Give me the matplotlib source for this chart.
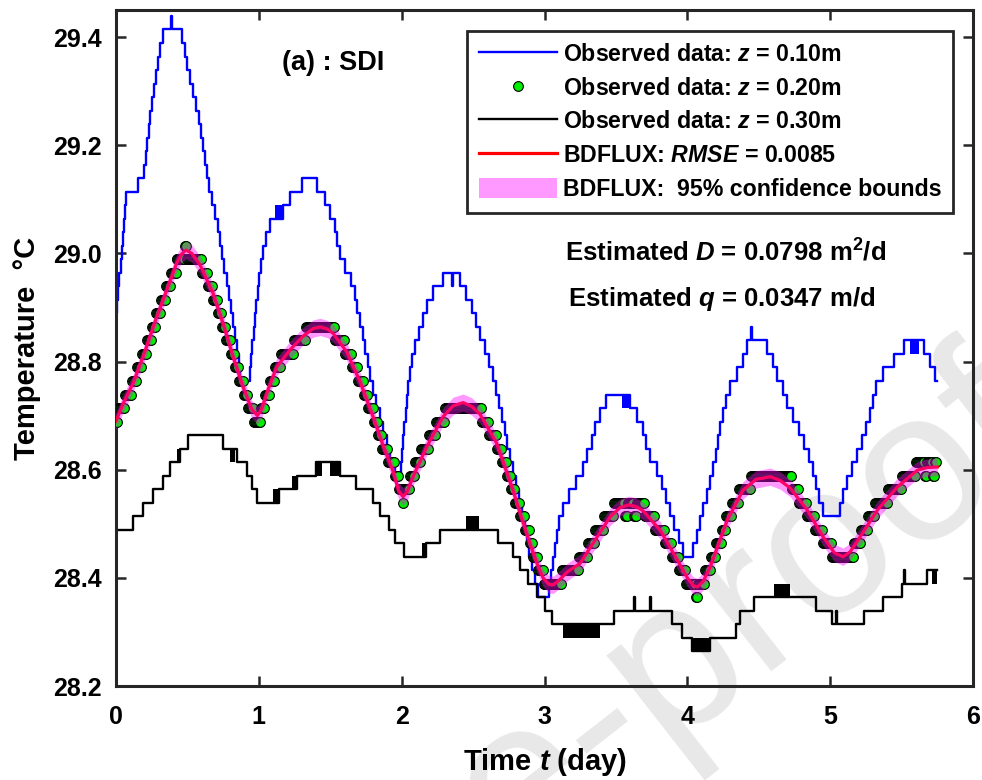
import numpy as np
import matplotlib
matplotlib.use("Agg")
import matplotlib.pyplot as plt
from matplotlib.patches import Patch
from matplotlib.lines import Line2D

plt.rcParams['font.family'] = ['Liberation Sans', 'DejaVu Sans']
plt.rcParams['font.weight'] = 'bold'
plt.rcParams['axes.labelweight'] = 'bold'
plt.rcParams['mathtext.fontset'] = 'custom'
plt.rcParams['mathtext.rm'] = 'Liberation Sans:bold'
plt.rcParams['mathtext.bf'] = 'Liberation Sans:bold'
plt.rcParams['mathtext.it'] = 'Liberation Sans:italic:bold'

# ---- data (time in days, temperature in degC) ----
# z = 0.10 m, logged temperature: (time where level starts, level)
blue_steps = [
    (0.000, 28.889), (0.008, 28.914), (0.016, 28.939), (0.024, 28.964), (0.032, 28.989),
    (0.040, 29.014), (0.048, 29.039), (0.055, 29.064), (0.062, 29.089), (0.069, 29.114),
    (0.156, 29.139), (0.197, 29.164), (0.207, 29.189), (0.218, 29.214), (0.229, 29.239),
    (0.240, 29.264), (0.252, 29.289), (0.265, 29.314), (0.280, 29.339), (0.295, 29.364),
    (0.310, 29.389), (0.330, 29.414), (0.383, 29.439), (0.390, 29.414),
    (0.460, 29.389), (0.480, 29.364), (0.500, 29.339), (0.520, 29.314), (0.540, 29.289),
    (0.560, 29.264), (0.578, 29.239), (0.595, 29.214), (0.610, 29.189), (0.625, 29.164),
    (0.640, 29.139), (0.652, 29.114), (0.675, 29.089), (0.695, 29.064), (0.712, 29.039),
    (0.727, 29.014), (0.743, 28.989), (0.758, 28.964), (0.774, 28.939), (0.790, 28.914),
    (0.805, 28.889), (0.820, 28.864), (0.833, 28.839), (0.847, 28.814), (0.860, 28.789),
    (0.870, 28.764),
    (0.940, 28.789), (0.947, 28.814), (0.955, 28.839), (0.963, 28.864), (0.972, 28.889),
    (0.982, 28.914), (0.992, 28.939), (1.003, 28.964), (1.015, 28.989), (1.030, 29.014),
    (1.050, 29.039), (1.075, 29.064), (1.170, 29.089), (1.220, 29.114), (1.300, 29.139),
    (1.410, 29.114), (1.460, 29.089), (1.500, 29.064), (1.530, 29.039), (1.550, 29.014),
    (1.570, 28.989), (1.600, 28.964), (1.645, 28.939), (1.670, 28.914), (1.690, 28.889),
    (1.710, 28.864), (1.730, 28.839), (1.745, 28.814), (1.765, 28.789), (1.780, 28.764),
    (1.800, 28.739), (1.820, 28.714), (1.845, 28.689), (1.870, 28.664), (1.895, 28.639),
    (1.920, 28.614), (1.950, 28.589),
    (1.995, 28.614), (2.003, 28.639), (2.011, 28.664), (2.019, 28.689), (2.027, 28.714),
    (2.036, 28.739), (2.046, 28.764), (2.060, 28.789), (2.075, 28.814), (2.095, 28.839),
    (2.120, 28.864), (2.150, 28.889), (2.180, 28.914), (2.220, 28.939), (2.290, 28.964),
    (2.350, 28.939), (2.360, 28.964),
    (2.410, 28.939), (2.450, 28.914), (2.490, 28.889), (2.520, 28.864), (2.550, 28.839),
    (2.580, 28.814), (2.610, 28.789), (2.640, 28.764), (2.660, 28.739), (2.680, 28.714),
    (2.700, 28.689), (2.720, 28.664), (2.740, 28.639), (2.760, 28.614), (2.780, 28.589),
    (2.800, 28.564), (2.820, 28.539), (2.840, 28.514), (2.860, 28.489), (2.875, 28.464),
    (2.890, 28.439), (2.910, 28.414), (2.930, 28.389), (2.955, 28.364),
    (3.030, 28.389), (3.045, 28.414), (3.060, 28.439), (3.075, 28.464), (3.090, 28.489),
    (3.105, 28.514), (3.130, 28.539), (3.170, 28.564), (3.220, 28.589), (3.270, 28.614),
    (3.300, 28.639), (3.330, 28.664), (3.355, 28.689), (3.390, 28.714), (3.430, 28.739),
    (3.600, 28.714), (3.650, 28.689), (3.690, 28.664), (3.710, 28.639), (3.740, 28.614),
    (3.790, 28.589), (3.820, 28.564), (3.850, 28.539), (3.880, 28.514), (3.910, 28.489),
    (3.940, 28.464), (3.970, 28.439),
    (4.040, 28.464), (4.070, 28.489), (4.090, 28.514), (4.110, 28.539), (4.140, 28.564),
    (4.160, 28.589), (4.180, 28.614), (4.200, 28.639), (4.215, 28.664), (4.230, 28.689),
    (4.250, 28.714), (4.270, 28.739), (4.300, 28.764), (4.350, 28.789), (4.390, 28.814),
    (4.420, 28.839), (4.445, 28.864), (4.452, 28.839),
    (4.560, 28.814), (4.600, 28.789), (4.630, 28.764), (4.670, 28.739), (4.700, 28.714),
    (4.740, 28.689), (4.780, 28.664), (4.820, 28.639), (4.850, 28.614), (4.880, 28.589),
    (4.900, 28.564), (4.925, 28.539), (4.950, 28.514),
    (5.070, 28.539), (5.090, 28.564), (5.120, 28.589), (5.150, 28.614), (5.190, 28.639),
    (5.220, 28.664), (5.250, 28.689), (5.280, 28.714), (5.300, 28.739), (5.320, 28.764),
    (5.370, 28.789), (5.450, 28.814), (5.520, 28.839),
    (5.660, 28.814), (5.700, 28.789), (5.735, 28.764), (5.745, 28.764),
]
# short stretches where the z = 0.10 m logger flickers between two levels
blue_flicker = [(1.110, 1.175, 29.064, 29.089), (3.545, 3.600, 28.714, 28.739),
                (5.560, 5.620, 28.814, 28.839)]

# z = 0.20 m, logged temperature
green_steps = [
    (0.000, 28.689), (0.010, 28.714), (0.060, 28.739), (0.105, 28.764), (0.140, 28.789),
    (0.180, 28.814), (0.210, 28.839), (0.245, 28.864), (0.277, 28.889), (0.310, 28.914),
    (0.347, 28.939), (0.380, 28.964), (0.418, 28.989), (0.486, 29.014), (0.494, 28.989),
    (0.600, 28.964), (0.640, 28.939), (0.680, 28.914), (0.710, 28.889), (0.740, 28.864),
    (0.770, 28.839), (0.800, 28.814), (0.830, 28.789), (0.860, 28.764), (0.890, 28.739),
    (0.920, 28.714), (0.965, 28.689),
    (1.010, 28.714), (1.035, 28.739), (1.070, 28.764), (1.105, 28.789), (1.150, 28.814),
    (1.240, 28.839), (1.330, 28.864),
    (1.530, 28.839), (1.600, 28.814), (1.650, 28.789), (1.690, 28.764), (1.730, 28.739),
    (1.760, 28.714), (1.800, 28.689), (1.830, 28.664), (1.860, 28.639), (1.900, 28.614),
    (1.945, 28.589), (1.975, 28.564), (2.005, 28.539),
    (2.013, 28.564), (2.050, 28.589), (2.085, 28.614), (2.130, 28.639), (2.190, 28.664),
    (2.240, 28.689), (2.300, 28.714),
    (2.560, 28.689), (2.610, 28.664), (2.660, 28.639), (2.700, 28.614), (2.730, 28.589),
    (2.760, 28.564), (2.790, 28.539), (2.820, 28.514), (2.855, 28.489), (2.890, 28.464),
    (2.915, 28.439), (2.950, 28.414), (2.990, 28.389),
    (3.120, 28.414), (3.240, 28.439), (3.300, 28.464), (3.350, 28.489), (3.410, 28.514),
    (3.480, 28.539), (3.560, 28.514), (3.580, 28.539), (3.620, 28.514), (3.640, 28.539),
    (3.700, 28.514), (3.770, 28.489), (3.840, 28.464), (3.890, 28.439), (3.940, 28.414),
    (3.990, 28.389), (4.060, 28.364),
    (4.070, 28.389), (4.120, 28.414), (4.160, 28.439), (4.200, 28.464), (4.240, 28.489),
    (4.270, 28.514), (4.310, 28.539), (4.360, 28.564), (4.440, 28.589),
    (4.730, 28.564), (4.780, 28.539), (4.840, 28.514), (4.890, 28.489), (4.950, 28.464),
    (5.010, 28.439),
    (5.160, 28.464), (5.210, 28.489), (5.260, 28.514), (5.310, 28.539), (5.400, 28.564),
    (5.500, 28.589), (5.600, 28.614), (5.660, 28.589), (5.680, 28.614), (5.720, 28.589),
    (5.735, 28.614),
]
green_dt = 1.0 / 144      # 10-minute logging interval
green_end = 5.745

# z = 0.30 m, logged temperature
black_steps = [
    (0.000, 28.489), (0.120, 28.514), (0.190, 28.539), (0.260, 28.564), (0.330, 28.589),
    (0.380, 28.614), (0.450, 28.639), (0.505, 28.664), (0.750, 28.639), (0.845, 28.614),
    (0.915, 28.589), (0.950, 28.564), (0.985, 28.539), (1.140, 28.564), (1.270, 28.589),
    (1.400, 28.614), (1.570, 28.589), (1.680, 28.564), (1.800, 28.539), (1.850, 28.514),
    (1.910, 28.489), (1.954, 28.464), (2.017, 28.439), (2.170, 28.464), (2.270, 28.489),
    (2.676, 28.464), (2.780, 28.439), (2.830, 28.414), (2.886, 28.389), (2.946, 28.364),
    (3.000, 28.339), (3.050, 28.314), (3.390, 28.314), (3.490, 28.339), (3.630, 28.364),
    (3.636, 28.339), (3.740, 28.364), (3.746, 28.339), (3.890, 28.314), (3.960, 28.289),
    (4.030, 28.264), (4.160, 28.289), (4.340, 28.314), (4.370, 28.339), (4.470, 28.364),
    (4.830, 28.364), (4.900, 28.339), (5.010, 28.314), (5.040, 28.339), (5.046, 28.314),
    (5.240, 28.339), (5.370, 28.364), (5.500, 28.389), (5.520, 28.414), (5.526, 28.389),
    (5.680, 28.414), (5.745, 28.414),
]
black_flicker = [(0.430, 0.450, 28.614, 28.639), (0.800, 0.830, 28.614, 28.639),
                 (1.100, 1.140, 28.539, 28.564), (1.230, 1.270, 28.564, 28.589),
                 (1.400, 1.440, 28.589, 28.614), (1.500, 1.570, 28.589, 28.614),
                 (2.140, 2.170, 28.439, 28.464), (2.450, 2.540, 28.489, 28.514),
                 (3.130, 3.390, 28.289, 28.314), (4.040, 4.150, 28.264, 28.289),
                 (4.610, 4.720, 28.364, 28.389), (5.715, 5.745, 28.389, 28.414)]

# BDFLUX fit at z = 0.20 m
fit_t = [0.00, 0.05, 0.12, 0.19, 0.27, 0.355, 0.425, 0.46, 0.49, 0.53, 0.59, 0.68, 0.75,
         0.82, 0.89, 0.95, 0.99, 1.02, 1.055, 1.125, 1.22, 1.31, 1.38, 1.43, 1.48, 1.52,
         1.615, 1.71, 1.80, 1.87, 1.94, 1.98, 2.01, 2.04, 2.08, 2.175, 2.29, 2.36, 2.43,
         2.49, 2.55, 2.665, 2.78, 2.83, 2.90, 2.95, 2.99, 3.03, 3.06, 3.10, 3.16, 3.25,
         3.34, 3.46, 3.53, 3.59, 3.64, 3.69, 3.81, 3.93, 4.00, 4.04, 4.07, 4.11, 4.16,
         4.28, 4.39, 4.48, 4.58, 4.65, 4.72, 4.84, 4.95, 5.03, 5.09, 5.14, 5.21, 5.33,
         5.47, 5.61, 5.68, 5.75]
fit_T = [28.690, 28.722, 28.760, 28.809, 28.871, 28.932, 28.982, 28.999, 29.006, 29.000,
         28.978, 28.926, 28.870, 28.809, 28.753, 28.712, 28.700, 28.712, 28.741, 28.790,
         28.822, 28.847, 28.861, 28.864, 28.860, 28.852, 28.818, 28.762, 28.698, 28.645,
         28.597, 28.560, 28.550, 28.560, 28.587, 28.642, 28.698, 28.718, 28.724, 28.717,
         28.702, 28.649, 28.562, 28.519, 28.462, 28.425, 28.400, 28.388, 28.387, 28.395,
         28.411, 28.427, 28.464, 28.513, 28.530, 28.535, 28.532, 28.524, 28.488, 28.433,
         28.400, 28.386, 28.383, 28.393, 28.420, 28.507, 28.562, 28.582, 28.587, 28.580,
         28.566, 28.525, 28.476, 28.446, 28.439, 28.448, 28.476, 28.525, 28.568, 28.599,
         28.604, 28.605]
fit_halfwidth = 0.016     # 95% confidence half-width, degC

labels = ['Observed data: $z$ = 0.10m', 'Observed data: $z$ = 0.20m',
          'Observed data: $z$ = 0.30m', 'BDFLUX: $RMSE$ = 0.0085',
          'BDFLUX:  95% confidence bounds']
x_ticks = [0, 1, 2, 3, 4, 5, 6]
y_ticks = [28.2, 28.4, 28.6, 28.8, 29.0, 29.2, 29.4]


def unzip(steps):
    t, v = zip(*steps)
    return np.array(t), np.array(v)


W, H = 982, 780
fig = plt.figure(figsize=(W / 100, H / 100), dpi=100)
ax = fig.add_axes([116 / W, 1 - 686 / H, 857 / W, 676 / H])
ax.set_facecolor('none')

# journal watermark behind everything
fig.text(0.37, -0.18, 'Journal Pre-proof', rotation=38, fontsize=155, color='#e8e8e8',
         fontweight='normal', ha='center', va='center', zorder=-5)

bt, bT = unzip(blue_steps)
ax.plot(bt, bT, drawstyle='steps-post', color='#0000ff', lw=1.7, zorder=2)
for t0, t1, lo, hi in blue_flicker:
    ax.fill_between([t0, t1], [lo, lo], [hi, hi], color='#0000ff', lw=0, zorder=2)

gt, gT = unzip(green_steps)
ts = np.arange(0, green_end, green_dt)
gv = gT[np.searchsorted(gt, ts + 1e-9, side='right') - 1]
ax.plot(ts, gv, 'o', ls='none', ms=7.0, mfc='#00ee00', mec='k', mew=0.8, zorder=3)

kt, kT = unzip(black_steps)
ax.plot(kt, kT, drawstyle='steps-post', color='k', lw=1.7, zorder=2)
for t0, t1, lo, hi in black_flicker:
    ax.fill_between([t0, t1], [lo, lo], [hi, hi], color='k', lw=0, zorder=2)

fit_t = np.array(fit_t)
fit_T = np.array(fit_T)
ax.plot(fit_t, fit_T, color='#ff0000', lw=2.3, zorder=4)
ax.fill_between(fit_t, fit_T - fit_halfwidth, fit_T + fit_halfwidth,
                color='#ff00ff', alpha=0.4, lw=0, zorder=5)

ax.set_xlim(0, 6)
ax.set_ylim(28.2, 29.45)
ax.set_xticks(x_ticks)
ax.set_yticks(y_ticks)
ax.set_yticklabels([f'{v:.1f}' for v in y_ticks])
ax.tick_params(direction='in', length=7, width=1.8, color='#262626', labelsize=18,
               top=True, right=True, pad=10)
ax.tick_params(axis='x', pad=14)
for s in ax.spines.values():
    s.set_linewidth(2.2)
    s.set_color('#262626')

ax.set_xlabel('Time $t$ (day)', fontsize=21, labelpad=12)
ax.set_ylabel('Temperature  \u00b0C', fontsize=21, labelpad=9)

handles = [Line2D([], [], color='#0000ff', lw=1.7),
           Line2D([], [], ls='none', marker='o', ms=7.0, mfc='#00ee00', mec='k', mew=0.8),
           Line2D([], [], color='k', lw=1.7),
           Line2D([], [], color='#ff0000', lw=2.3),
           Patch(facecolor='#ff00ff', alpha=0.4, lw=0)]
leg = ax.legend(handles, labels, loc='upper left', bbox_to_anchor=(467 / W, 1 - 31 / H),
                bbox_transform=fig.transFigure, borderaxespad=0, fontsize=16.7,
                handlelength=3.4, handleheight=1.0, handletextpad=0.25,
                labelspacing=0.45, borderpad=0.5, fancybox=False, framealpha=1,
                edgecolor='#262626')
leg.get_frame().set_linewidth(2.0)
leg.set_zorder(10)

fig.text(333 / W, 1 - 63 / H, '(a) : SDI', fontsize=19.5, ha='center', va='center')
fig.text(726 / W, 1 - 253 / H, 'Estimated $D$ = 0.0798 m$^2$/d', fontsize=18.5,
         ha='center', va='center')
fig.text(722 / W, 1 - 299 / H, 'Estimated $q$ = 0.0347 m/d', fontsize=18.5,
         ha='center', va='center')

fig.savefig('out.png', dpi=100, facecolor='white')
